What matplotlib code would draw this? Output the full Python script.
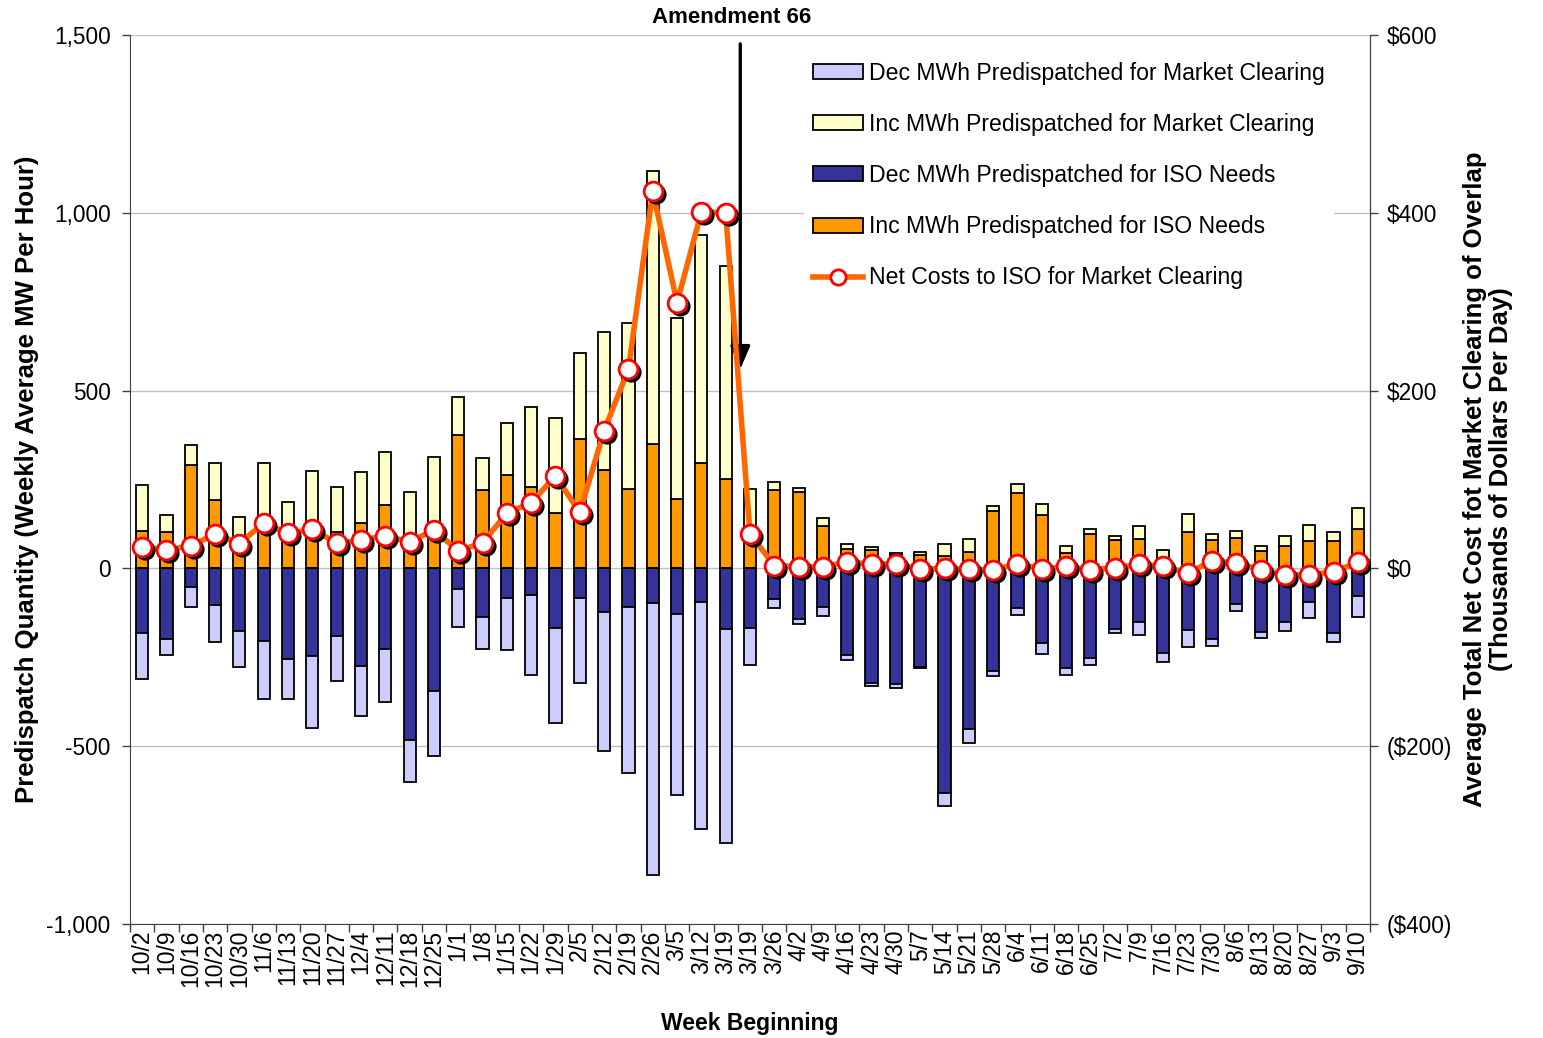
import matplotlib
matplotlib.use("Agg")
import matplotlib.pyplot as plt
import matplotlib.transforms as mtransforms
from matplotlib.patches import Patch
from matplotlib.lines import Line2D
from matplotlib.ticker import FuncFormatter, FixedLocator
import numpy as np

plt.rcParams['font.family'] = ['Liberation Sans', 'DejaVu Sans']

weeks = ['10/2', '10/9', '10/16', '10/23', '10/30', '11/6', '11/13', '11/20', '11/27',
         '12/4', '12/11', '12/18', '12/25', '1/1', '1/8', '1/15', '1/22', '1/29',
         '2/5', '2/12', '2/19', '2/26', '3/5', '3/12', '3/19', '3/19', '3/26',
         '4/2', '4/9', '4/16', '4/23', '4/30', '5/7', '5/14', '5/21', '5/28',
         '6/4', '6/11', '6/18', '6/25', '7/2', '7/9', '7/16', '7/23', '7/30',
         '8/6', '8/13', '8/20', '8/27', '9/3', '9/10']

# Inc MWh predispatched for ISO needs (orange)
inc_iso = [105, 103, 290, 192, 80, 110, 95, 100, 101, 128, 179, 85, 105, 375, 220, 262, 229,
           155, 364, 276, 222, 351, 195, 295, 251, 75, 220, 214, 119, 54, 51, 38, 38, 35,
           47, 162, 211, 150, 44, 96, 81, 82, 30, 101, 81, 86, 50, 64, 77, 78, 112]
# Inc MWh predispatched for market clearing (cream)
inc_mkt = [129, 47, 57, 103, 65, 185, 91, 175, 129, 142, 147, 130, 209, 108, 91, 146, 225,
           267, 241, 389, 469, 767, 508, 642, 600, 148, 24, 12, 24, 16, 10, 4, 8, 35,
           37, 13, 25, 31, 20, 16, 11, 37, 21, 51, 17, 20, 13, 26, 45, 23, 58]
# Dec MWh predispatched for ISO needs (dark blue)
dec_iso = [-183, -199, -52, -104, -175, -205, -256, -245, -191, -274, -228, -482, -345, -59,
           -138, -84, -76, -169, -84, -124, -108, -96, -127, -95, -171, -169, -87, -143,
           -108, -243, -323, -325, -277, -633, -452, -289, -110, -211, -281, -253, -171,
           -150, -239, -172, -199, -100, -180, -150, -95, -183, -78]
# Dec MWh predispatched for market clearing (lavender)
dec_mkt = [-127, -45, -56, -104, -101, -162, -111, -203, -127, -142, -147, -118, -183, -106,
           -89, -145, -223, -267, -239, -389, -466, -765, -509, -639, -600, -104, -23, -12,
           -25, -15, -8, -12, -2, -34, -38, -14, -21, -31, -19, -19, -11, -37, -24, -50,
           -18, -21, -15, -26, -45, -25, -58]
# Net costs to ISO for market clearing ($ thousands per day)
net_cost = [24, 21, 25, 39, 28, 51, 39.5, 44, 28.5, 31.5, 37, 29.5, 43.5, 19.5, 29, 62, 74,
            104, 63, 155, 224, 424, 299, 401, 400, 39, 3, 2, 2, 7, 5, 5, -1, 0, -1, -1.5,
            5, -0.5, 2.3, -1.5, 0.5, 4.5, 2.5, -5.6, 8.5, 6, -1.5, -7.5, -7, -4, 7]

C_DEC_MKT = '#CCCCFF'
C_INC_MKT = '#FFFFCC'
C_DEC_ISO = '#333399'
C_INC_ISO = '#FF9900'
C_LINE = '#FF6600'

fig = plt.figure(figsize=(15.43, 10.38), dpi=100)
ax = fig.add_axes([130/1543, 114/1038, 1240/1543, 889/1038])
ax2 = ax.twinx()

x = np.arange(len(weeks))
w = 0.5
ek = dict(edgecolor='black', linewidth=1.3)
ax.bar(x, inc_iso, w, color=C_INC_ISO, zorder=3, **ek)
ax.bar(x, inc_mkt, w, bottom=inc_iso, color=C_INC_MKT, zorder=3, **ek)
ax.bar(x, dec_iso, w, color=C_DEC_ISO, zorder=3, **ek)
ax.bar(x, dec_mkt, w, bottom=dec_iso, color=C_DEC_MKT, zorder=3, **ek)

ax.set_xlim(-0.5, len(weeks) - 0.5)
ax.set_ylim(-1000, 1500)
ax.set_yticks([-1000, -500, 0, 500, 1000, 1500])
ax.yaxis.set_major_formatter(FuncFormatter(lambda v, p: f"{int(v):,}"))
ax.grid(axis='y', color='#C0C0C0', linewidth=1.0, zorder=0)
ax.set_axisbelow(True)

# x ticks: marks at category boundaries, labels centered
ax.xaxis.set_major_locator(FixedLocator(np.arange(-0.5, len(weeks), 1.0)))
ax.xaxis.set_major_formatter(FuncFormatter(lambda v, p: ''))
ax.xaxis.set_minor_locator(FixedLocator(x))
ax.set_xticklabels(weeks, minor=True, rotation=90)
ax.tick_params(axis='x', which='major', length=6, width=1, color='#404040', direction='out')
ax.tick_params(axis='x', which='minor', length=0, labelsize=16.5, pad=4)
ax.tick_params(axis='y', which='major', length=6, width=1, color='#404040',
               labelsize=16.3, pad=8)

for s in ['top']:
    ax.spines[s].set_visible(False)
    ax2.spines[s].set_visible(False)
ax.spines['left'].set_color('#404040')
ax.spines['bottom'].set_color('#404040')
ax2.spines['right'].set_color('#404040')
ax2.spines['left'].set_visible(False)
ax2.spines['bottom'].set_visible(False)

ax2.set_ylim(-400, 600)
ax2.set_yticks([-400, -200, 0, 200, 400, 600])
ax2.yaxis.set_major_formatter(FuncFormatter(
    lambda v, p: f"${int(v):,}" if v >= 0 else f"(${int(-v):,})"))
ax2.tick_params(axis='y', length=6, width=1, color='#404040', labelsize=16.3, pad=6)

# line with shadowed markers
shadow = mtransforms.offset_copy(ax2.transData, fig=fig, x=3, y=-3, units='dots')
ax2.plot(x, net_cost, color=C_LINE, linewidth=4.0, zorder=4, solid_joinstyle='miter')
ax2.plot(x, net_cost, linestyle='none', marker='o', markersize=13.5,
         markerfacecolor='black', markeredgecolor='black', transform=shadow, zorder=5)
ax2.plot(x, net_cost, linestyle='none', marker='o', markersize=13.5,
         markerfacecolor='white', markeredgecolor='#FF0000', markeredgewidth=2, zorder=6)

ax.set_ylabel('Predispatch Quantity (Weekly Average MW Per Hour)', fontsize=18.5,
              fontweight='bold', labelpad=5)
ax.set_xlabel('Week Beginning', fontsize=16.5, fontweight='bold', labelpad=18)
ax2.set_ylabel('Average Total Net Cost fot Market Clearing of Overlap\n(Thousands of Dollars Per Day)',
               fontsize=18.5, fontweight='bold', labelpad=8, linespacing=1.12)

# Amendment 66 arrow
ax.annotate('', xy=(24.6, 560), xytext=(24.6, 1475),
            arrowprops=dict(arrowstyle='-|>,head_length=1.4,head_width=0.6',
                            color='black', lw=2.4, shrinkA=0, shrinkB=0), zorder=7,
            annotation_clip=False)
ax.text(24.25, 1.02, 'Amendment 66', transform=ax.get_xaxis_transform(),
        ha='center', va='center', fontsize=16, fontweight='bold')

handles = [
    Patch(facecolor=C_DEC_MKT, edgecolor='black', linewidth=1.3),
    Patch(facecolor=C_INC_MKT, edgecolor='black', linewidth=1.3),
    Patch(facecolor=C_DEC_ISO, edgecolor='black', linewidth=1.3),
    Patch(facecolor=C_INC_ISO, edgecolor='black', linewidth=1.3),
    Line2D([], [], color=C_LINE, linewidth=4.0, marker='o', markersize=11,
           markerfacecolor='white', markeredgecolor='#FF0000', markeredgewidth=2),
]
labels = ['Dec MWh Predispatched for Market Clearing',
          'Inc MWh Predispatched for Market Clearing',
          'Dec MWh Predispatched for ISO Needs',
          'Inc MWh Predispatched for ISO Needs',
          'Net Costs to ISO for Market Clearing']
leg = ax2.legend(handles, labels, loc='upper left', bbox_to_anchor=(0.538, 0.988),
                 fontsize=16.6, frameon=True, framealpha=1, edgecolor='none',
                 facecolor='white', fancybox=False, handlelength=2.15, handleheight=0.62,
                 handletextpad=0.25, labelspacing=1.22, borderpad=0.4, borderaxespad=0.3)
leg.set_zorder(10)

fig.savefig('out.png', dpi=100)
